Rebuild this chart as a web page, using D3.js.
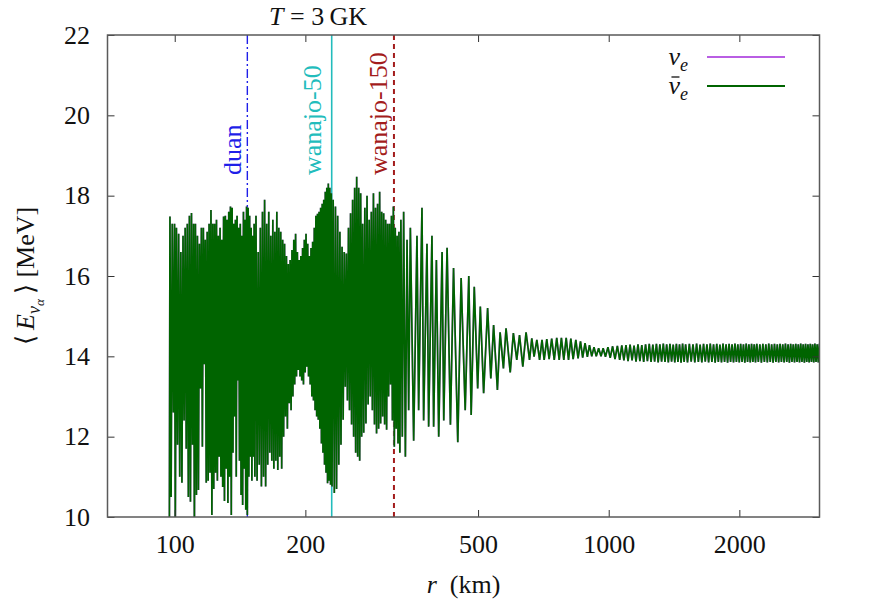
<!DOCTYPE html>
<html><head><meta charset="utf-8">
<script src="https://cdn.jsdelivr.net/npm/d3@7"></script>
<style>body{margin:0;background:#fff}svg{display:block}
svg text{font-family:"Liberation Serif",serif;font-size:26px;fill:#111}
</style>
</head><body><svg id="chart" width="872" height="610"></svg>
<script>
// ---------- data ----------
const xTickValues = [100, 200, 500, 1000, 2000];
const yTickValues = [10, 12, 14, 16, 18, 20, 22];
const xDomain = [70, 3060];
const yDomain = [10, 22];
const markerNames = ["duan", "wanajo-50", "wanajo-150"];
const markerRadii = [147, 230, 320];
const markerColors = ["#1f1fe8", "#22bcbc", "#a31c1c"];
const seriesLabels = ["ν_e", "ν̄_e"];
const seriesColors = ["#b95ee3", "#006400"];

// <E> of anti-nu_e versus radius [r (km), <E> (MeV)]
const meanEnergyNuEbar = [
[97.2,9.6],[97.5,17.48],[98.1,10.5],[98.7,17.3],[99.3,12.6],[99.9,17.3],[100.3,9.6],[100.9,17.2],[101.5,11.8],[102.1,17.05],
[102.7,11.0],[103.3,16.6],[103.9,10.85],[104.5,17.0],[105.1,12.4],[105.7,17.2],[106.3,11.7],[106.9,17.3],[107.5,10.5],[108.1,17.5],
[108.7,10.38],[109.3,17.57],[109.9,11.8],[110.5,17.3],[111.0,9.6],[111.6,17.3],[112.2,10.55],[112.8,17.0],[113.4,10.67],[114.0,16.8],
[114.6,13.2],[115.2,17.2],[115.8,11.75],[116.4,17.2],[117.0,13.8],[117.6,16.9],[118.2,10.85],[118.8,17.1],[119.4,10.9],[120.0,17.3],
[120.6,11.1],[121.2,17.64],[121.8,10.05],[122.4,17.3],[123.0,10.7],[123.6,17.3],[124.2,11.1],[124.8,17.4],[125.4,10.9],[126.0,17.0],
[126.6,11.5],[127.2,17.2],[127.8,11.0],[128.4,16.9],[129.0,10.75],[129.6,17.48],[130.2,10.4],[130.8,17.5],[131.4,11.2],[132.0,17.4],
[132.6,10.35],[133.2,17.6],[133.8,11.0],[134.4,17.73],[135.0,10.05],[135.6,17.7],[136.2,11.6],[136.8,17.3],[137.4,12.5],[138.0,17.4],
[138.6,11.0],[139.2,17.5],[139.8,13.4],[140.4,17.2],[141.0,11.4],[141.6,17.3],[142.2,10.55],[142.8,17.0],[143.4,10.3],[144.0,17.6],
[144.6,11.2],[145.2,17.4],[145.8,10.18],[146.4,17.73],[147.0,10.05],[147.6,17.7],[148.2,11.0],[148.8,17.5],[149.4,11.5],[150.0,17.2],
[150.6,10.9],[151.2,17.0],[151.8,11.5],[152.4,17.3],[153.0,11.0],
[153.9,17.5],[154.8,10.9],[155.7,16.6],[156.6,11.3],[157.5,17.2],[158.4,10.76],[159.3,17.6],[160.2,11.0],[161.1,17.9],[162.0,10.76],
[162.9,17.3],[163.8,11.3],[164.7,17.6],[165.6,11.6],[166.5,17.0],[167.4,11.4],[168.3,17.4],[169.2,11.2],[170.1,17.1],[171.0,11.4],
[171.9,17.6],[172.8,11.17],[173.7,17.2],[174.6,11.5],[175.5,17.1],[176.4,11.2],[177.3,16.9],[178.2,12.0],[179.1,16.8],[180.0,12.5],
[180.9,16.5],[181.8,12.2],[182.7,16.3],[183.6,12.83],[184.5,16.4],[185.4,12.66],[186.3,16.65],[187.2,13.0],[188.1,16.9],[189.0,13.3],
[189.9,17.05],[190.8,13.5],[191.7,16.6],[192.6,13.66],[193.5,16.4],[194.4,13.5],[195.3,16.5],[196.2,13.4],[197.1,16.7],[198.0,13.3],
[198.9,16.9],[199.8,13.6],[200.7,17.05],[201.6,13.74],[202.5,16.8],[203.4,13.5],[204.3,16.5],[205.2,13.3],[206.1,16.7],[207.0,13.0],
[207.9,16.85],[208.8,12.9],[209.7,17.2],[210.6,12.66],[211.5,17.5],[212.4,12.5],[213.3,17.55],[214.2,12.42],[215.1,17.6],[216.0,12.2],
[216.9,17.7],[217.8,11.83],[218.7,17.8],[219.6,11.6],[220.5,17.9],[221.4,11.3],[222.3,18.1],[223.2,11.1],[224.1,18.2],[225.0,10.84],
[225.9,18.3],[226.8,10.9],[227.7,18.2],[228.6,10.8],[229.5,18.06],[230.4,10.76],
[231.8,17.9],[233.2,10.6],[234.6,17.73],[236.0,10.7],[237.4,17.5],[238.8,11.3],[240.2,17.1],[241.6,11.8],[243.0,16.73],[244.4,12.42],
[245.8,16.6],[247.2,13.24],[248.6,16.56],[250.0,12.9],[251.4,17.2],[252.8,12.66],[254.2,17.56],[255.6,12.3],[257.0,17.9],[258.4,12.0],
[259.8,18.2],[261.2,11.6],[262.6,18.47],[264.0,11.5],[265.4,18.2],[266.8,11.4],[268.2,18.06],[269.6,12.0],[271.0,17.3],[272.6,12.1],
[274.2,17.7],[275.8,12.33],[277.4,18.0],[279.0,12.8],[280.6,17.4],[282.2,13.0],[283.8,17.6],[285.4,12.66],[287.0,18.06],[288.6,12.3],
[290.2,17.7],[291.8,12.08],[293.4,17.8],[295.0,12.2],[296.6,18.1],[298.2,12.33],[299.8,17.6],[301.4,12.5],[303.0,17.56],[304.6,12.3],
[306.2,17.4],[307.8,12.17],[309.4,17.3],[311.0,13.0],[312.6,17.3],[314.2,13.3],[315.8,17.5],[317.4,12.4],[319.0,17.73],[320.6,11.75],
[322.2,17.2],[323.8,12.2],[325.4,17.0],[327.0,11.83],[328.6,17.1],[330.2,11.6],
[332.0,17.4],[334.5,12.0],[336.9,17.6],[340.0,11.5],[343.0,16.9],[346.0,12.66],[349.1,17.2],[355.3,11.9],[361.6,17.0],[364.8,12.66],
[371.3,17.7],[374.6,12.4],[381.3,16.8],[384.7,12.25],[391.5,17.0],[395.0,12.25],[400.8,16.4],[405.8,12.0],[413.1,16.6],[416.8,12.4],
[424.2,16.7],[431.8,12.3],[439,16.2],[449,11.86],[457,15.95],[467,12.66],[476,16.0],[482,12.54],[490,15.73],[499,13.2],
[506,15.24],[515,13.08],[526,15.2],[535,13.45],[543,14.78],[554,13.16],[562,14.6],[572,13.7],[580,14.7],[593,13.6],
[603,14.58],[614,13.91],[623,14.53],[634,13.74],[645,14.6],[657,13.91],[665,14.45],[673,13.99],[683,14.41],[693,13.91],
[702,14.41],[710,13.91],[720,14.43],[729,13.93],[739,14.44],[749,13.91],[759,14.46],[769,13.91],[778,14.46],[788,13.91],
[798,14.46],[808,13.91],[818,14.44],[828,13.93],[840,14.41],[850,13.95],[861,14.37],[871,13.97],[882,14.33],[893,13.99],
[903,14.28],[914,14.0],[925,14.23],[936,14.0],[948,14.2],[960,14.0],[971,14.2],[983,13.99],[996,14.23],[1008,13.96],
[1021,14.25],[1034,13.93],[1047,14.26],[1060,13.91],
[1072,14.27],[1084,13.9],[1096,14.28],[1108,13.88],[1120,14.29],[1132,13.9],[1144,14.27],[1156,13.87],[1168,14.3],[1180,13.88],
[1192,14.28],[1204,13.86],[1216,14.3],[1228,13.88],[1240,14.31],[1252,13.86],[1264,14.29],[1276,13.87],[1288,14.31],[1300,13.85],
[1312,14.3],[1324,13.87],[1336,14.32],[1348,13.86],[1360,14.3],[1372,13.85],[1384,14.31],[1396,13.87],[1408,14.29],[1420,13.85],
[1432,14.31],[1444,13.86],[1456,14.3],[1468,13.84],[1480,14.32],[1492,13.86],[1504,14.3],
[1519,13.85],[1534,14.31],[1549,13.87],[1564,14.3],[1579,13.85],[1594,14.32],[1609,13.86],[1624,14.29],[1639,13.85],[1654,14.31],
[1669,13.87],[1684,14.3],[1699,13.85],[1714,14.32],[1729,13.86],[1744,14.3],[1759,13.84],[1774,14.31],[1789,13.86],[1804,14.29],
[1819,13.85],[1834,14.32],[1849,13.86],[1864,14.3],[1879,13.84],[1894,14.31],[1909,13.86],[1924,14.3],[1939,13.85],[1954,14.32],
[1969,13.86],[1984,14.3],[1999,13.85],[2014,14.31],[2029,13.86],[2044,14.3],[2059,13.84],[2074,14.32],[2089,13.86],[2104,14.3],
[2119,13.85],[2134,14.31],[2149,13.86],[2164,14.3],[2179,13.85],[2194,14.31],
[2212,13.86],[2230,14.3],[2248,13.84],[2266,14.31],[2284,13.86],[2302,14.3],[2320,13.85],[2338,14.32],[2356,13.86],[2374,14.3],
[2392,13.84],[2410,14.31],[2428,13.86],[2446,14.3],[2464,13.85],[2482,14.31],[2500,13.86],[2518,14.3],[2536,13.85],[2554,14.32],
[2572,13.86],[2590,14.3],[2608,13.84],[2626,14.31],[2644,13.86],[2662,14.3],[2680,13.85],[2698,14.31],[2716,13.86],[2734,14.3],
[2752,13.85],[2770,14.32],[2788,13.86],[2806,14.3],[2824,13.84],[2842,14.31],[2860,13.86],[2878,14.3],[2896,13.85],[2914,14.31],
[2932,13.86],[2950,14.3],[2968,13.85],[2986,14.32],[3004,13.86],[3022,14.3],[3040,13.85],[3058,14.31],[3076,13.86]
];
// nu_e curve coincides with the anti-nu_e curve (fully hidden beneath it)
const meanEnergyNuE = meanEnergyNuEbar;

// ---------- chart ----------
const svg = d3.select("#chart");
const M = {l: 107.5, r: 819.5, t: 35, b: 517};
const x = d3.scaleLog().domain(xDomain).range([M.l, M.r]);
const y = d3.scaleLinear().domain(yDomain).range([M.b, M.t]);

svg.append("defs").append("clipPath").attr("id", "plotclip")
  .append("rect").attr("x", M.l).attr("y", M.t).attr("width", M.r - M.l).attr("height", M.b - M.t);

// marker lines (behind data)
const dashes = ["9,3,2,3", null, "5,4"];
const widths = [1.4, 1.6, 2.0];
markerRadii.forEach((r, i) => {
  svg.append("line")
    .attr("x1", x(r)).attr("x2", x(r)).attr("y1", M.t).attr("y2", M.b)
    .attr("stroke", markerColors[i]).attr("stroke-width", widths[i])
    .attr("stroke-dasharray", dashes[i]);
});

// data
const line = d3.line().x(d => x(d[0])).y(d => y(d[1]));
const gData = svg.append("g").attr("clip-path", "url(#plotclip)");
[meanEnergyNuE, meanEnergyNuEbar].forEach((s, i) => {
  gData.append("path").datum(s).attr("d", line)
    .attr("fill", "none").attr("stroke", seriesColors[i])
    .attr("stroke-width", 1.7).attr("stroke-linejoin", "bevel");
});

// marker labels
const labelX = [241, 321, 387];
markerNames.forEach((n, i) => {
  svg.append("text")
    .attr("transform", `translate(${labelX[i]},175) rotate(-90)`)
    .attr("text-anchor", "start")
    .style("fill", markerColors[i]).text(n);
});

// axes with inward ticks
function styleAxis(g) {
  g.select(".domain").remove();
  g.attr("font-family", null).attr("font-size", null);
  g.selectAll("line").attr("stroke", "#333").attr("stroke-width", 1);
  g.selectAll("text").attr("fill", null);
}
svg.append("g").attr("transform", `translate(0,${M.b})`)
  .call(d3.axisBottom(x).tickValues(xTickValues).tickSize(-7).tickPadding(17.5).tickFormat(d3.format("d")))
  .call(styleAxis);
svg.append("g").attr("transform", `translate(0,${M.t})`)
  .call(d3.axisTop(x).tickValues(xTickValues).tickSize(-7).tickFormat(""))
  .call(styleAxis);
svg.append("g").attr("transform", `translate(${M.l},0)`)
  .call(d3.axisLeft(y).tickValues(yTickValues).tickSize(-7).tickPadding(17.5).tickFormat(d3.format("d")))
  .call(styleAxis);
svg.append("g").attr("transform", `translate(${M.r},0)`)
  .call(d3.axisRight(y).tickValues(yTickValues).tickSize(-7).tickFormat(""))
  .call(styleAxis);

// border
svg.append("rect").attr("x", M.l).attr("y", M.t).attr("width", M.r - M.l).attr("height", M.b - M.t)
  .attr("fill", "none").attr("stroke", "#5a5a5a").attr("stroke-width", 1.5);

// title
const title = svg.append("text").attr("x", 318).attr("y", 25).attr("text-anchor", "middle");
title.append("tspan").style("font-style", "italic").text("T");
title.append("tspan").text(" = 3\u2009GK");

// x label
const xl = svg.append("text").attr("x", (M.l + M.r) / 2).attr("y", 593).attr("text-anchor", "middle");
xl.append("tspan").style("font-style", "italic").text("r");
xl.append("tspan").text("\u2002(km)");

// y label
const yl = svg.append("text").attr("transform", `translate(34,${(M.t + M.b) / 2}) rotate(-90)`)
  .attr("text-anchor", "middle");
yl.append("tspan").text("\u27E8\u2009");
yl.append("tspan").style("font-style", "italic").text("E");
yl.append("tspan").style("font-style", "italic").style("font-size", "18px").attr("dy", 6).text("ν");
yl.append("tspan").style("font-style", "italic").style("font-size", "13px").attr("dy", 4).text("α");
yl.append("tspan").attr("dy", -10).text("\u2009\u27E9 [MeV]");

// legend
const legendY = [57, 86];
seriesLabels.forEach((lab, i) => {
  const parts = lab.split("_");
  const base = parts[0].replace("\u0304", "");
  const t = svg.append("text").attr("x", 688).attr("y", legendY[i] + 8).attr("text-anchor", "end");
  const nu = t.append("tspan").style("font-style", "italic").text(base);
  t.append("tspan").style("font-style", "italic").style("font-size", "18px").attr("dy", 6).text(parts[1]);
  if (parts[0].includes("\u0304")) {
    const bb = nu.node().getBBox();
    svg.append("line").attr("x1", bb.x + 3).attr("x2", bb.x + bb.width - 1)
      .attr("y1", legendY[i] - 9).attr("y2", legendY[i] - 9)
      .attr("stroke", "#111").attr("stroke-width", 1.3);
  }
  svg.append("line").attr("x1", 707).attr("x2", 785).attr("y1", legendY[i]).attr("y2", legendY[i])
    .attr("stroke", seriesColors[i]).attr("stroke-width", 1.8);
});
</script></body></html>
